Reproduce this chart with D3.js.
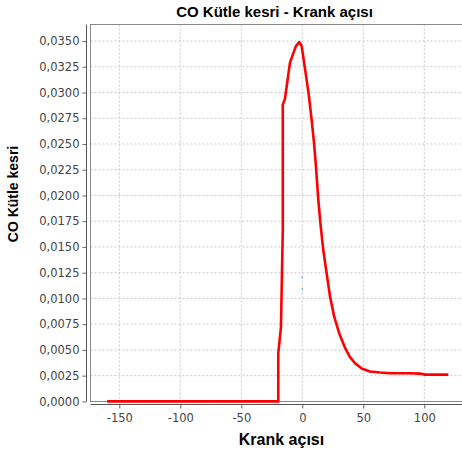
<!DOCTYPE html>
<html>
<head>
<meta charset="utf-8">
<script src="https://cdn.jsdelivr.net/npm/d3@7"></script>
<style>
  body { margin: 0; background: #fff; }
  svg { display: block; }
</style>
</head>
<body>
<div id="chart"></div>
<script>
// Krank acisi (deg) vs CO kutle kesri
const crankAngle = [-160, -20, -19.7, -19.7, -17.5, -16.0, -16.0, -14.2, -10.1, -7.4, -5.2, -2.5, -0.5,
    1.6, 3.6, 5.5, 7.7, 9.6, 11.2, 13.1, 15.1, 17.2, 20.0, 22.7, 26.2, 30.3, 35.0, 39.1, 43.2,
    48.7, 55.5, 63.7, 71.9, 88.3, 96.5, 100.6, 119.7];
const coFraction = [0, 0, 0, 0.0047, 0.0072, 0.0166, 0.0288, 0.0294, 0.0329, 0.0338, 0.0345, 0.0349, 0.0345,
    0.0328, 0.0312, 0.0296, 0.0273, 0.0251, 0.0228, 0.0196, 0.0170, 0.0147, 0.0124, 0.0102, 0.0082, 0.0066, 0.0052, 0.0043, 0.0037,
    0.0032, 0.0029, 0.0028, 0.00273, 0.00273, 0.0027, 0.0026, 0.0026];

// small crosshair remnant near x = 0
const crossX = [0, 0];
const crossY = [0.0122, 0.0108];

const xTicks = [-150, -100, -50, 0, 50, 100];
const yTicks = [0, 0.0025, 0.005, 0.0075, 0.01, 0.0125, 0.015, 0.0175, 0.02, 0.0225, 0.025, 0.0275, 0.03, 0.0325, 0.035];

const W = 462, H = 454;
const plot = {left: 90.5, top: 24.5, right: 480, bottom: 401.5};

const svg = d3.select("#chart").append("svg")
    .attr("width", W)
    .attr("height", H);

const xScale = d3.scaleLinear().domain([0, 100]).range([302.3, 424.3]);
const yScale = d3.scaleLinear().domain([0, 0.035]).range([401.4, 41]);

const data = crankAngle.map((d, i) => ({x: d, y: coFraction[i]}));

// plot background + grid
svg.append("rect")
    .attr("x", plot.left).attr("y", plot.top)
    .attr("width", plot.right - plot.left).attr("height", plot.bottom - plot.top)
    .attr("fill", "#fff");

svg.append("g").selectAll("line")
    .data(xTicks)
    .enter().append("line")
    .attr("x1", d => xScale(d)).attr("x2", d => xScale(d))
    .attr("y1", plot.top).attr("y2", plot.bottom)
    .attr("stroke", "#c8c8c8")
    .attr("stroke-dasharray", "2,2");

svg.append("g").selectAll("line")
    .data(yTicks)
    .enter().append("line")
    .attr("x1", plot.left).attr("x2", plot.right)
    .attr("y1", d => yScale(d)).attr("y2", d => yScale(d))
    .attr("stroke", "#c8c8c8")
    .attr("stroke-dasharray", "2,2");

svg.append("rect")
    .attr("x", plot.left).attr("y", plot.top)
    .attr("width", plot.right - plot.left).attr("height", plot.bottom - plot.top)
    .attr("fill", "none")
    .attr("stroke", "#888");

// crosshair bit
svg.append("line")
    .attr("x1", xScale(crossX[0])).attr("x2", xScale(crossX[1]))
    .attr("y1", yScale(crossY[0])).attr("y2", yScale(crossY[1]))
    .attr("stroke", "#7fb2e5")
    .attr("stroke-width", 1.2)
    .attr("stroke-dasharray", "3,9");

// series
const line = d3.line()
    .x(d => xScale(d.x))
    .y(d => yScale(d.y));

svg.append("path")
    .datum(data)
    .attr("d", line)
    .attr("fill", "none")
    .attr("stroke", "#ff0000")
    .attr("stroke-width", 2.6)
    .attr("stroke-linejoin", "round");

// axes
const fmt = d3.format(".4f");
const yAxis = d3.axisLeft(yScale)
    .tickValues(yTicks)
    .tickSize(4)
    .tickPadding(3)
    .tickFormat(d => fmt(d).replace(".", ","));
const yG = svg.append("g")
    .attr("transform", "translate(86.5,0)")
    .call(yAxis);

const xAxis = d3.axisBottom(xScale)
    .tickValues(xTicks)
    .tickSize(4)
    .tickPadding(5)
    .tickFormat(d => String(d));
const xG = svg.append("g")
    .attr("transform", "translate(0,404.5)")
    .call(xAxis);

[yG, xG].forEach(g => {
    g.select(".domain").remove();
    g.selectAll(".tick line").attr("stroke", "#666");
    g.selectAll(".tick text")
        .attr("fill", "#444")
        .style("font-family", "DejaVu Sans, sans-serif")
        .style("font-size", "11.5px");
});

svg.append("line")
    .attr("x1", 86.5).attr("x2", 86.5)
    .attr("y1", plot.top).attr("y2", plot.bottom)
    .attr("stroke", "#555");
svg.append("line")
    .attr("x1", plot.left).attr("x2", plot.right)
    .attr("y1", 404.5).attr("y2", 404.5)
    .attr("stroke", "#555");

// titles
svg.append("text")
    .attr("x", 274.5)
    .attr("y", 17)
    .attr("text-anchor", "middle")
    .style("font-family", "Liberation Sans, Arial, sans-serif")
    .style("font-weight", "bold")
    .style("font-size", "15px")
    .text("CO Kütle kesri - Krank açısı");

svg.append("text")
    .attr("x", 281.5)
    .attr("y", 445)
    .attr("text-anchor", "middle")
    .style("font-family", "Liberation Sans, Arial, sans-serif")
    .style("font-weight", "bold")
    .style("font-size", "16px")
    .text("Krank açısı");

svg.append("text")
    .attr("transform", "translate(18,194) rotate(-90)")
    .attr("text-anchor", "middle")
    .style("font-family", "Liberation Sans, Arial, sans-serif")
    .style("font-weight", "bold")
    .style("font-size", "14px")
    .text("CO Kütle kesri");
</script>
</body>
</html>
